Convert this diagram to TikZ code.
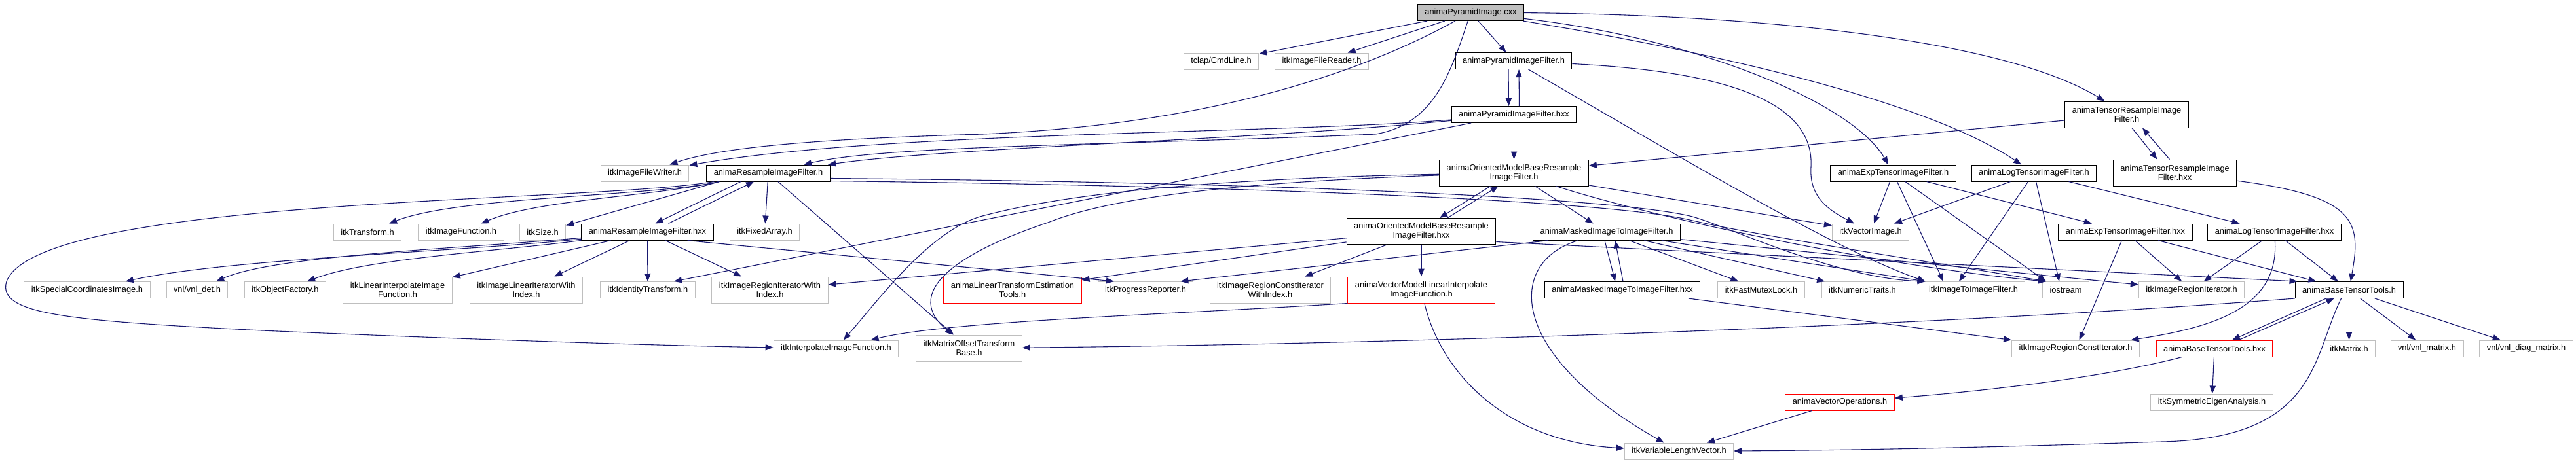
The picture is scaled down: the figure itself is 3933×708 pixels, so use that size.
\documentclass[tikz,border=0pt]{standalone}
\usepackage{fontspec}
\setmainfont{Liberation Sans}
\usetikzlibrary{arrows.meta}
\definecolor{midblue}{HTML}{191970}
\definecolor{extgray}{HTML}{BFBFBF}
\newcommand{\depfont}{\fontsize{6.4pt}{7pt}\selectfont}
\begin{document}
\begin{tikzpicture}[x=0.5pt, y=-0.5pt, >={Triangle[length=6pt,width=4.6pt]},
		file/.style={rectangle, draw=black, line width=0.5pt, fill=white, inner xsep=5.5pt, inner ysep=0pt, minimum height=12.5pt, align=center, font=\depfont},
		sysfile/.style={file, draw=extgray},
		cutfile/.style={file, draw=red},
		mainfile/.style={file, fill=extgray},
		twoline/.style={minimum height=20pt},
		dep/.style={->, draw=midblue, line width=0.55pt}]
	\useasboundingbox (0,0) rectangle (3933,708);
	\node[mainfile] (cxx) at (2245.5,19) {animaPyramidImage.cxx};
	\node[sysfile] (tclap) at (1864.5,93.5) {tclap/CmdLine.h};
	\node[sysfile] (reader) at (2018,93.5) {itkImageFileReader.h};
	\node[file] (pyrh) at (2311,93) {animaPyramidImageFilter.h};
	\node[sysfile] (writer) at (984.5,264.5) {itkImageFileWriter.h};
	\node[file] (pyrhxx) at (2311.5,175) {animaPyramidImageFilter.hxx};
	\node[file] (resh) at (1173,264.5) {animaResampleImageFilter.h};
	\node[file, twoline] (ombh) at (2311.5,264) {animaOrientedModelBaseResample\\ImageFilter.h};
	\node[file, twoline] (tensh) at (3247,175) {animaTensorResampleImage\\Filter.h};
	\node[file, twoline] (tenshxx) at (3320.5,264) {animaTensorResampleImage\\Filter.hxx};
	\node[file] (exph) at (2890.5,264.5) {animaExpTensorImageFilter.h};
	\node[file] (logh) at (3105.5,264.5) {animaLogTensorImageFilter.h};
	\node[sysfile] (itktransform) at (561,354.5) {itkTransform.h};
	\node[sysfile] (imgfunc) at (704,354.5) {itkImageFunction.h};
	\node[sysfile] (itksize) at (828.5,354.5) {itkSize.h};
	\node[file] (reshxx) at (988.5,354.5) {animaResampleImageFilter.hxx};
	\node[sysfile] (fixedarr) at (1167.5,354.5) {itkFixedArray.h};
	\node[file, twoline] (ombhxx) at (2170,353.5) {animaOrientedModelBaseResample\\ImageFilter.hxx};
	\node[file] (maskh) at (2453,354.5) {animaMaskedImageToImageFilter.h};
	\node[sysfile] (vecimg) at (2856,354.5) {itkVectorImage.h};
	\node[file] (exphxx) at (3245,354.5) {animaExpTensorImageFilter.hxx};
	\node[file] (loghxx) at (3472.5,354.5) {animaLogTensorImageFilter.hxx};
	\node[sysfile] (specimg) at (133,443) {itkSpecialCoordinatesImage.h};
	\node[sysfile] (vnldet) at (301,443) {vnl/vnl\_det.h};
	\node[sysfile] (objfact) at (435.5,443) {itkObjectFactory.h};
	\node[sysfile, twoline] (lininterp) at (607,443) {itkLinearInterpolateImage\\Function.h};
	\node[sysfile, twoline] (liniter) at (803.5,443) {itkImageLinearIteratorWith\\Index.h};
	\node[sysfile] (identity) at (989,443) {itkIdentityTransform.h};
	\node[sysfile, twoline] (regiterwi) at (1175.5,443) {itkImageRegionIteratorWith\\Index.h};
	\node[cutfile, twoline] (lintrans) at (1546,443) {animaLinearTransformEstimation\\Tools.h};
	\node[sysfile] (progress) at (1749,443) {itkProgressReporter.h};
	\node[sysfile, twoline] (regconstwi) at (1939.5,443) {itkImageRegionConstIterator\\WithIndex.h};
	\node[cutfile, twoline] (vecmodel) at (2170,443) {animaVectorModelLinearInterpolate\\ImageFunction.h};
	\node[file] (maskhxx) at (2477,443) {animaMaskedImageToImageFilter.hxx};
	\node[sysfile] (mutex) at (2689,443) {itkFastMutexLock.h};
	\node[sysfile] (numtraits) at (2843.5,443) {itkNumericTraits.h};
	\node[sysfile] (img2img) at (3013,443) {itkImageToImageFilter.h};
	\node[sysfile] (iostream) at (3154,443) {iostream};
	\node[sysfile] (regiter) at (3346,443) {itkImageRegionIterator.h};
	\node[file] (tensorh) at (3586.5,443) {animaBaseTensorTools.h};
	\node[sysfile] (interp) at (1276.5,532.5) {itkInterpolateImageFunction.h};
	\node[sysfile, twoline] (mato) at (1479.5,532) {itkMatrixOffsetTransform\\Base.h};
	\node[sysfile] (regconst) at (3169,532.5) {itkImageRegionConstIterator.h};
	\node[cutfile] (tensorhxx) at (3381,532.5) {animaBaseTensorTools.hxx};
	\node[sysfile] (itkmatrix) at (3586.5,532.5) {itkMatrix.h};
	\node[sysfile] (vnlmat) at (3705.5,532.5) {vnl/vnl\_matrix.h};
	\node[sysfile] (vnldiag) at (3857,532.5) {vnl/vnl\_diag\_matrix.h};
	\node[cutfile] (vecops) at (2809,614.5) {animaVectorOperations.h};
	\node[sysfile] (symeig) at (3377,614.5) {itkSymmetricEigenAnalysis.h};
	\node[sysfile] (varlen) at (2563.5,689.5) {itkVariableLengthVector.h};
	% includes of the tool
	\draw[dep] (cxx) -- (tclap);
	\draw[dep] (cxx) -- (reader);
	\draw[dep] (cxx) .. controls (2080,110) and (1850,190) .. (1500,205) .. controls (1250,212) and (1100,225) .. (writer);
	\draw[dep] (cxx) -- (pyrh);
	\draw[dep] (cxx) .. controls (2215,110) and (2190,190) .. (2100,205) .. controls (1700,222) and (1350,222) .. (resh);
	\draw[dep] (cxx) .. controls (2600,60) and (2830,160) .. (exph);
	\draw[dep] (cxx) .. controls (2650,85) and (2950,160) .. (logh);
	\draw[dep] (cxx) .. controls (2650,22) and (3050,55) .. (tensh);
	% pyramid filter
	\draw[dep] ([xshift=-4pt]pyrh.south) -- ([xshift=-4pt]pyrhxx.north);
	\draw[dep] ([xshift=4pt]pyrhxx.north) -- ([xshift=4pt]pyrh.south);
	\draw[dep] (pyrh) .. controls (2650,110) and (2770,160) .. (2765,255) .. controls (2762,300) and (2790,320) .. (vecimg);
	\draw[dep] (pyrh) .. controls (2600,260) and (2800,380) .. ([xshift=3pt]img2img.north west);
	\draw[dep] (pyrhxx) .. controls (1950,205) and (1350,200) .. (writer);
	\draw[dep] (pyrhxx) .. controls (1900,215) and (1450,225) .. (resh);
	\draw[dep] (pyrhxx) -- ([xshift=20pt]identity.north);
	\draw[dep] (pyrhxx) -- (ombh);
	% resample filter
	\draw[dep] ([xshift=-21pt]resh.south) -- ([xshift=6pt]reshxx.north);
	\draw[dep] ([xshift=16pt]reshxx.north) -- ([xshift=-11pt]resh.south);
	\draw[dep] ([xshift=10pt]resh.south west) .. controls (1000,300) and (700,300) .. (itktransform);
	\draw[dep] ([xshift=10pt]resh.south west) .. controls (1000,300) and (820,305) .. (imgfunc);
	\draw[dep] ([xshift=10pt]resh.south west) -- (itksize);
	\draw[dep] ([xshift=6pt]resh.south west) .. controls (900,310) and (60,300) .. (10,430) .. controls (-5,480) and (100,490) .. (400,505) .. controls (700,518) and (1000,528) .. (interp);
	\draw[dep] (resh) -- (fixedarr);
	\draw[dep] (resh) -- (mato);
	\draw[dep] ([yshift=-4pt]resh.east) .. controls (1900,278) and (2450,300) .. (2580,330) .. controls (2630,342) and (2800,425) .. ([xshift=3pt]img2img.north west);
	\draw[dep] ([yshift=-6pt]resh.east) .. controls (1900,284) and (2450,306) .. (2580,336) .. controls (2680,360) and (2950,400) .. ([xshift=3pt]iostream.north west);
	\draw[dep] (reshxx) .. controls (700,385) and (350,395) .. (specimg);
	\draw[dep] (reshxx) .. controls (700,380) and (420,390) .. (vnldet);
	\draw[dep] (reshxx) .. controls (750,385) and (560,395) .. (objfact);
	\draw[dep] (reshxx) -- (lininterp);
	\draw[dep] (reshxx) -- (liniter);
	\draw[dep] (reshxx) -- (identity);
	\draw[dep] (reshxx) -- (regiterwi);
	\draw[dep] ([xshift=-20pt]reshxx.south east) -- ([xshift=-24pt]progress.north);
	% oriented model filter
	\draw[dep] ([xshift=-18pt]ombh.south) -- ([xshift=14pt]ombhxx.north);
	\draw[dep] ([xshift=20pt]ombhxx.north) -- ([xshift=-12pt]ombh.south);
	\draw[dep] (ombh) .. controls (1900,272) and (1650,290) .. (1500,330) .. controls (1420,351) and (1340,460) .. (interp);
	\draw[dep] (ombh) .. controls (1900,278) and (1700,300) .. (1600,340) .. controls (1450,390) and (1380,450) .. (mato);
	\draw[dep] (ombh) -- (vecimg);
	\draw[dep] (ombh) -- (maskh);
	\draw[dep] (ombh) .. controls (2550,340) and (2900,410) .. ([xshift=3pt]iostream.north west);
	\draw[dep] (ombhxx) -- (regiterwi);
	\draw[dep] (ombhxx) -- (lintrans);
	\draw[dep] (ombhxx) -- (regconstwi);
	\draw[dep] (ombhxx) -- (vecmodel);
	\draw[dep] ([yshift=-8pt]ombhxx.east) -- ([xshift=2pt]tensorh.north west);
	% masked filter
	\draw[dep] ([xshift=-1.5pt]maskh.south) -- ([xshift=-5.5pt]maskhxx.north);
	\draw[dep] ([xshift=0.5pt]maskhxx.north) -- ([xshift=6.5pt]maskh.south);
	\draw[dep] (maskh) .. controls (2300,400) and (2300,540) .. (varlen);
	\draw[dep] (maskh) -- (mutex);
	\draw[dep] (maskh) -- (numtraits);
	\draw[dep] (maskh) -- ([xshift=3pt]img2img.north west);
	\draw[dep] (maskh) -- (regiter);
	\draw[dep] ([xshift=12pt]maskh.south west) -- ([xshift=-10pt]progress.north east);
	\draw[dep] (maskhxx) -- (regconst.north west);
	\draw[dep] (vecmodel.south west) .. controls (1800,480) and (1450,490) .. (interp);
	\draw[dep] (vecmodel) .. controls (2200,570) and (2300,675) .. (varlen);
	% tensor filters
	\draw[dep] ([xshift=4pt]tensh.south) -- ([xshift=-13.5pt]tenshxx.north);
	\draw[dep] ([xshift=-4pt]tenshxx.north) -- ([xshift=12pt]tensh.south);
	\draw[dep] (tensh) -- (ombh);
	\draw[dep] (tenshxx) .. controls (3600,300) and (3605,340) .. (tensorh);
	\draw[dep] (exph) -- (vecimg);
	\draw[dep] (exph) -- ([xshift=-23pt]img2img.north);
	\draw[dep] (exph) -- ([xshift=3pt]iostream.north west);
	\draw[dep] (exph) -- (exphxx);
	\draw[dep] (logh) -- (vecimg);
	\draw[dep] (logh) -- ([xshift=-11pt]img2img.north);
	\draw[dep] (logh) -- ([xshift=-5pt]iostream.north);
	\draw[dep] (logh) -- (loghxx);
	\draw[dep] (exphxx) -- (regconst);
	\draw[dep] (exphxx) -- (regiter);
	\draw[dep] (exphxx) -- (tensorh);
	\draw[dep] (loghxx) -- (regiter);
	\draw[dep] (loghxx) .. controls (3480,470) and (3380,500) .. (regconst);
	\draw[dep] (loghxx) -- (tensorh);
	% base tensor tools
	\draw[dep] ([xshift=-17.5pt]tensorh.south) -- ([xshift=13.5pt]tensorhxx.north);
	\draw[dep] ([xshift=18.5pt]tensorhxx.north) -- ([xshift=-11.5pt]tensorh.south);
	\draw[dep] (tensorh) -- (itkmatrix);
	\draw[dep] (tensorh) -- (vnlmat);
	\draw[dep] (tensorh) -- (vnldiag);
	\draw[dep] (tensorh.south west) .. controls (3000,495) and (2200,525) .. (mato);
	\draw[dep] ([xshift=-6pt]tensorh.south) .. controls (3530,545) and (3540,670) .. (3300,675) .. controls (3000,685) and (2800,688) .. (varlen);
	\draw[dep] (tensorhxx) -- (symeig);
	\draw[dep] (tensorhxx) .. controls (3200,580) and (3000,600) .. (vecops);
	\draw[dep] (vecops) -- (varlen);
\end{tikzpicture}
\end{document}
